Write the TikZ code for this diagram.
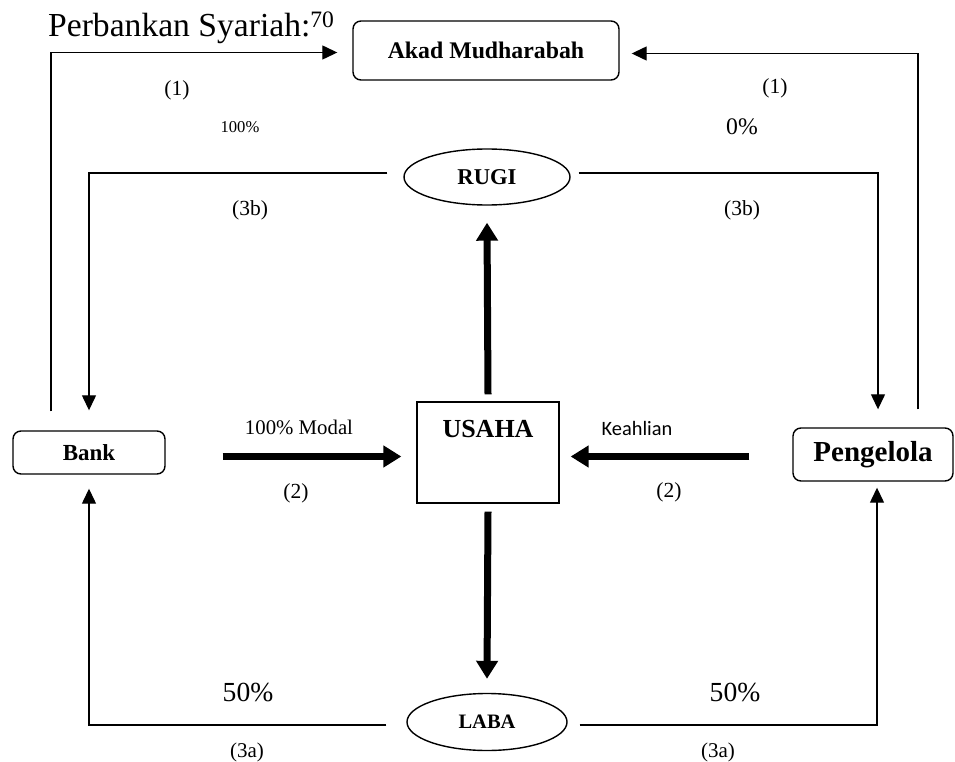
\documentclass[tikz,border=0pt]{standalone}
\usepackage{fontspec}
\setmainfont{Liberation Serif}
\newfontfamily\calibri{Carlito}
\usepackage{tikz}
\usetikzlibrary{shapes.geometric, arrows.meta}
\tikzstyle{box} = [rectangle,
rounded corners=8pt,
draw=black,
line width=1.4pt,
inner sep=0pt,
text centered]
\tikzstyle{oval} = [ellipse,
draw=black,
line width=1.4pt,
inner sep=0pt]
\tikzstyle{note} = [inner sep=0pt]
\tikzstyle{flow} = [line width=1.3pt, -{Triangle[length=15pt,width=14pt]}]
\tikzstyle{bigflow} = [line width=7pt, -{Triangle[length=18pt,width=21pt]}]

\begin{document}
\begin{tikzpicture}[x=1pt, y=-1pt]
\useasboundingbox (0,0) rectangle (955,762);
\node (title) [note, anchor=base west, font=\fontsize{33.6}{40}\selectfont] at (48,37) {Perbankan Syariah:\textsuperscript{70}};
\node (akad) [box, minimum width=266pt, minimum height=59pt, font=\bfseries\fontsize{23.8}{28}\selectfont] at (486,50.5) {Akad Mudharabah};
\node (rugi) [oval, minimum width=166pt, minimum height=56pt, font=\bfseries\fontsize{22.6}{26}\selectfont] at (487,177) {RUGI};
\node (usaha) [rectangle, draw=black, line width=1.3pt, inner sep=0pt, minimum width=142pt, text height=35pt, text depth=66pt, font=\bfseries\fontsize{26}{30}\selectfont] at (488,452.5) {USAHA};
\node (bank) [box, minimum width=152pt, minimum height=43pt, font=\bfseries\fontsize{23}{26}\selectfont] at (89,452.5) {Bank};
\node (pengelola) [box, minimum width=160pt, minimum height=53pt, font=\bfseries\fontsize{29}{32}\selectfont] at (873,454.5) {Pengelola};
\node (laba) [oval, minimum width=160pt, minimum height=57pt, font=\bfseries\fontsize{20.5}{24}\selectfont] at (487,722) {LABA};

% labels
\node (n1a) [note, font=\fontsize{21.5}{24}\selectfont] at (177,90) {(1)};
\node (n1b) [note, font=\fontsize{21.5}{24}\selectfont] at (775,88) {(1)};
\node (p100) [note, font=\fontsize{16.6}{19}\selectfont] at (240,127) {100\%};
\node (p0) [note, font=\fontsize{23.7}{27}\selectfont] at (742,127) {0\%};
\node (n3ba) [note, font=\fontsize{21.5}{24}\selectfont] at (250,210) {(3b)};
\node (n3bb) [note, font=\fontsize{21.5}{24}\selectfont] at (742,210) {(3b)};
\node (modal) [note, font=\fontsize{20.8}{24}\selectfont] at (299,427) {100\% Modal};
\node (keahlian) [note, font=\calibri\fontsize{20.4}{24}\selectfont] at (637,428) {Keahlian};
\node (n2a) [note, font=\fontsize{21.5}{24}\selectfont] at (296,493) {(2)};
\node (n2b) [note, font=\fontsize{21.5}{24}\selectfont] at (669,492) {(2)};
\node (p50a) [note, font=\fontsize{27.6}{31}\selectfont] at (248,692) {50\%};
\node (p50b) [note, font=\fontsize{27.6}{31}\selectfont] at (735,692) {50\%};
\node (n3aa) [note, font=\fontsize{21}{24}\selectfont] at (247,752) {(3a)};
\node (n3ab) [note, font=\fontsize{21}{24}\selectfont] at (718,752) {(3a)};

\draw [flow] ([xshift=-38pt,yshift=19pt]bank.north) |- ([xshift=-15pt,yshift=-2pt]akad.west);
\draw [flow] ([xshift=45pt,yshift=18pt]pengelola.north) |- ([xshift=12pt,yshift=-3pt]akad.east);
\draw [flow] ([xshift=-16pt,yshift=4pt]rugi.west) -| ([yshift=20pt]bank.north);
\draw [flow] ([xshift=8pt,yshift=4pt]rugi.east) -| ([xshift=5pt,yshift=18pt]pengelola.north);
\draw [flow] ([xshift=-20pt,yshift=-3pt]laba.west) -| ([yshift=-14pt]bank.south);
\draw [flow] ([xshift=12pt,yshift=-3pt]laba.east) -| ([xshift=4pt,yshift=-6pt]pengelola.south);
\draw [bigflow] ([yshift=7pt]usaha.north) -- ([yshift=-17pt]rugi.south);
\draw [bigflow] ([yshift=-8pt]usaha.south) -- ([yshift=14pt]laba.north);
\draw [bigflow] ([xshift=57pt,yshift=-4pt]bank.east) -- ([xshift=-15pt,yshift=-4pt]usaha.west);
\draw [bigflow] ([xshift=-43pt,yshift=-2pt]pengelola.west) -- ([xshift=11pt,yshift=-4pt]usaha.east);
\end{tikzpicture}
\end{document}
